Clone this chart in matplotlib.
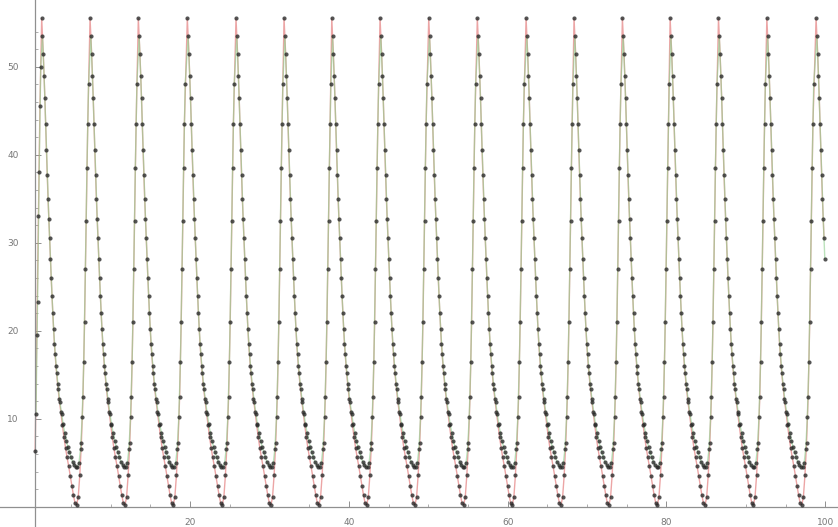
import numpy as np
import matplotlib.pyplot as plt

# peak positions (x units)
peaks = [1.32, 7.41, 13.49, 19.66, 25.79, 31.84, 37.85, 43.93, 50.06,
         56.18, 62.32, 68.36, 74.45, 80.46, 86.55, 92.64, 98.84]

# one cycle, offsets from a peak; lower series reaches 0, upper ~4.5
lower_phase = [0.0, 0.2, 0.4, 0.6, 0.8, 1.0, 1.2, 1.4, 1.6, 1.8,
               2.0, 2.2, 2.4, 2.6, 2.8, 3.0, 3.2, 3.4, 3.6, 3.8,
               4.0, 4.2, 4.4, 4.6, 4.8, 5.0, 5.2, 5.4, 5.6, 5.8]
lower_cycle = [55.5, 51.5, 46.5, 40.5, 35.0, 30.5, 26.0, 22.0, 18.5, 16.0,
               14.0, 12.3, 10.8, 9.3, 7.9, 6.7, 5.6, 4.6, 3.5, 2.4,
               1.3, 0.4, 0.2, 1.1, 3.6, 7.3, 12.5, 21.0, 32.5, 43.5]

upper_phase = [0.1, 0.3, 0.5, 0.7, 0.9, 1.1, 1.3, 1.5, 1.7, 1.9,
               2.1, 2.3, 2.5, 2.7, 2.9, 3.1, 3.3, 3.5, 3.7, 3.9,
               4.1, 4.3, 4.5, 4.7, 4.9, 5.1, 5.3, 5.5, 5.7, 5.9]
upper_cycle = [53.5, 49.0, 43.5, 37.7, 32.7, 28.2, 24.0, 20.2, 17.4, 15.2,
               13.4, 11.9, 10.6, 9.4, 8.4, 7.5, 6.8, 6.2, 5.6, 5.1,
               4.7, 4.5, 4.5, 5.0, 6.6, 10.2, 16.5, 27.0, 38.5, 48.0]

# first rise before the first peak
lower_lead_x = [0.5, 0.7, 0.9, 1.1]
lower_lead_y = [6.3, 19.5, 33.0, 45.5]
upper_lead_x = [0.6, 0.8, 1.0, 1.2]
upper_lead_y = [10.5, 23.3, 38.0, 50.0]

x_end = 100.0


def build(lead_x, lead_y, phase, cycle):
    xs = list(lead_x)
    ys = list(lead_y)
    for p in peaks:
        for s, v in zip(phase, cycle):
            if p + s <= x_end:
                xs.append(p + s)
                ys.append(v)
    return np.array(xs), np.array(ys)


lx, ly = build(lower_lead_x, lower_lead_y, lower_phase, lower_cycle)
ux, uy = build(upper_lead_x, upper_lead_y, upper_phase, upper_cycle)

fig = plt.figure(figsize=(8.38, 5.27), dpi=100)
ax = fig.add_axes([0, 0, 1, 1])

ax.plot(lx, ly, color='#e06a6a', lw=1.0, alpha=0.6, zorder=2)
ax.plot(ux, uy, color='#8fd08f', lw=1.0, alpha=0.6, zorder=2)
ax.plot(lx, ly, 'o', color='#2a2a2a', ms=3.0, mew=0, alpha=0.8, zorder=3)
ax.plot(ux, uy, 'o', color='#2a2a2a', ms=3.0, mew=0, alpha=0.8, zorder=3)

ax.set_xlim(-3.93, 101.6)
ax.set_ylim(-2.3, 57.6)

for side in ['top', 'right']:
    ax.spines[side].set_visible(False)
ax.spines['left'].set_position(('data', 0.5))
ax.spines['bottom'].set_position(('data', 0))
for side in ['left', 'bottom']:
    ax.spines[side].set_color('#909090')
    ax.spines[side].set_linewidth(0.9)

ax.set_xticks([20, 40, 60, 80, 100])
ax.set_xticks(np.arange(5, 101, 5), minor=True)
ax.set_yticks([10, 20, 30, 40, 50])
ax.set_yticks(np.arange(2, 56, 2), minor=True)
ax.tick_params(which='major', direction='in', length=4, width=0.7,
               color='#909090', labelsize=6.5, labelcolor='#777777')
ax.tick_params(which='minor', direction='in', length=2, width=0.6,
               color='#a0a0a0')
ax.tick_params(axis='x', which='major', pad=8)
ax.tick_params(axis='y', which='major', pad=12)

fig.savefig('out.png', dpi=100)
